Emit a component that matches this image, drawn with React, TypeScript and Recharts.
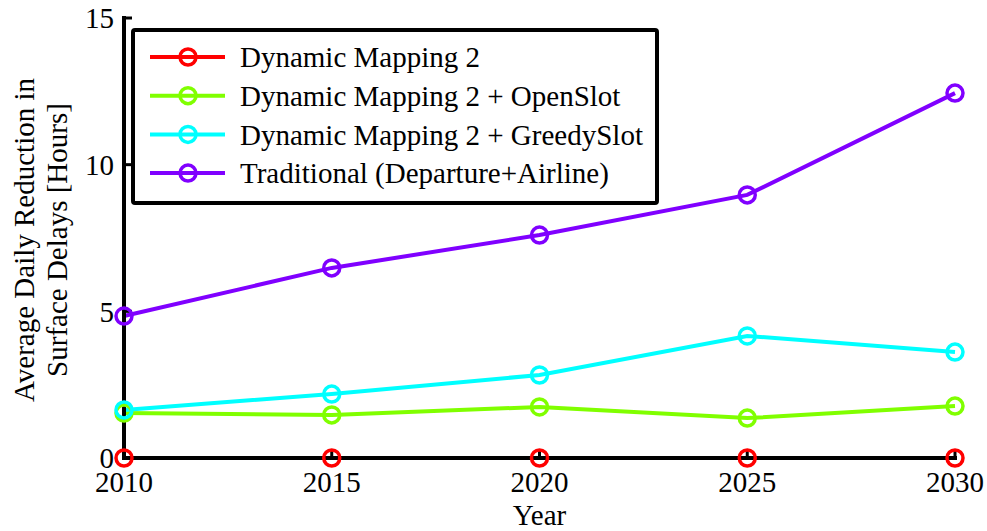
import { Line, LineChart, XAxis, YAxis } from "recharts";

const years = [2010, 2015, 2020, 2025, 2030];
const dynamicMapping = [0, 0, 0, 0, 0];
const openSlot = [1.53, 1.47, 1.74, 1.36, 1.77];
const greedySlot = [1.64, 2.18, 2.83, 4.16, 3.61];
const traditional = [4.84, 6.48, 7.6, 8.97, 12.44];
const yTicks = [0, 5, 10, 15];

const seriesNames = [
  "Dynamic Mapping 2",
  "Dynamic Mapping 2 + OpenSlot",
  "Dynamic Mapping 2 + GreedySlot",
  "Traditional (Departure+Airline)",
];
const seriesKeys = ["dm", "open", "greedy", "trad"];
const seriesColors = ["#ff0000", "#80ff00", "#00ffff", "#8000ff"];

const data = years.map((year, i) => ({
  year,
  dm: dynamicMapping[i],
  open: openSlot[i],
  greedy: greedySlot[i],
  trad: traditional[i],
}));

const FONT = "'Liberation Serif', 'Times New Roman', serif";
const FS = 29;
const axisLine = { stroke: "#000", strokeWidth: 4, strokeLinecap: "square" as const };
const tickLine = { stroke: "#000", strokeWidth: 3 };
const tickStyle = { fill: "#000", fontSize: FS, fontFamily: FONT };

const dot = (color: string) => ({ r: 8, stroke: color, strokeWidth: 3.5, fill: "none" });

const LegendBox = () => (
  <svg width={528} height={177} style={{ position: "absolute", left: 131, top: 28 }}>
    <rect x={2} y={2} width={524} height={173} fill="#fff" stroke="#000" strokeWidth={4} rx={2} />
    {seriesNames.map((name, i) => {
      const cy = 29 + i * 38.7;
      return (
        <g key={name}>
          <line x1={19} x2={94} y1={cy} y2={cy} stroke={seriesColors[i]} strokeWidth={4} />
          <circle cx={57} cy={cy} r={8} fill="none" stroke={seriesColors[i]} strokeWidth={3.5} />
          <text x={109} y={cy} dy="0.35em" fontFamily={FONT} fontSize={FS} fill="#000">
            {name}
          </text>
        </g>
      );
    })}
  </svg>
);

export default function App() {
  return (
    <div style={{ width: 987, height: 531, position: "absolute", left: 0, top: 0, background: "#fff" }}>
      <LineChart
        width={987}
        height={531}
        data={data}
        margin={{ top: 18, right: 32, bottom: 0, left: 44 }}
      >
        <XAxis
          dataKey="year"
          type="number"
          domain={[2010, 2030]}
          ticks={years}
          height={73}
          tickSize={-8}
          tickMargin={21}
          axisLine={axisLine}
          tickLine={tickLine}
          tick={tickStyle}
          label={{ value: "Year", position: "insideBottom", offset: 6, fill: "#000", fontSize: FS, fontFamily: FONT }}
        />
        <XAxis
          xAxisId="top"
          orientation="top"
          type="number"
          domain={[2010, 2030]}
          ticks={years}
          height={0}
          tickSize={-8}
          tick={false}
          axisLine={axisLine}
          tickLine={tickLine}
        />
        <YAxis
          type="number"
          domain={[0, 15]}
          ticks={yTicks}
          width={80}
          tickSize={-8}
          tickMargin={18}
          axisLine={axisLine}
          tickLine={tickLine}
          tick={tickStyle}
        />
        <YAxis
          yAxisId="right"
          orientation="right"
          type="number"
          domain={[0, 15]}
          ticks={yTicks}
          width={0}
          tickSize={-8}
          tick={false}
          axisLine={axisLine}
          tickLine={tickLine}
        />
        {seriesKeys.map((k, i) => (
          <Line
            key={k}
            dataKey={k}
            name={seriesNames[i]}
            stroke={seriesColors[i]}
            strokeWidth={4}
            dot={dot(seriesColors[i])}
            isAnimationActive={false}
          />
        ))}
      </LineChart>
      <LegendBox />
      <svg width={80} height={531} style={{ position: "absolute", left: 0, top: 0, pointerEvents: "none" }}>
        <text transform="translate(34,240) rotate(-90)" textAnchor="middle" fontFamily={FONT} fontSize={FS} fill="#000">
          Average Daily Reduction in
        </text>
        <text transform="translate(67,240) rotate(-90)" textAnchor="middle" fontFamily={FONT} fontSize={FS} fill="#000">
          Surface Delays [Hours]
        </text>
      </svg>
    </div>
  );
}
